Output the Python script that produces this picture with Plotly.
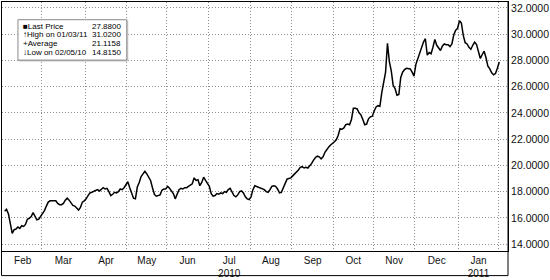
import numpy as np
import pandas as pd
import plotly.graph_objects as go

# ---- data (daily last price, weekdays from 2010-02-01) ----
start_date = "2010-02-01"
prices = [
    16.5, 16.65, 16.3, 15.5, 14.815, 15.1, 15.15, 15.3, 15.2, 15.4,
    15.35, 15.5, 15.9, 15.97, 16.1, 16.4, 16.15, 15.85, 15.9, 16.1,
    16.3, 16.55, 16.9, 17.2, 17.3, 17.3, 17.3, 17.3, 17.1, 17.0,
    17.0, 17.1, 17.35, 17.5, 17.35, 17.1, 16.95, 16.9, 16.75, 16.6,
    16.8, 17.2, 17.3, 17.45, 17.7, 17.9, 17.95, 18.0, 18.1, 18.15,
    18.05, 18.2, 18.3, 18.2, 18.25, 18.0, 17.7, 17.8, 17.95, 17.9,
    18.0, 18.2, 18.15, 18.3, 18.5, 18.75, 18.3, 17.8, 17.5, 17.45,
    18.35, 18.7, 19.15, 19.35, 19.55, 19.35, 19.1, 18.85, 18.3, 17.8,
    17.65, 17.7, 17.75, 18.1, 18.2, 18.2, 18.4, 18.25, 18.05, 17.85,
    17.45, 17.85, 18.15, 18.25, 18.2, 18.3, 18.3, 18.4, 18.5, 18.6,
    19.05, 18.85, 18.9, 18.45, 18.7, 19.1, 18.85, 18.65, 18.4, 17.85,
    17.65, 17.7, 17.85, 17.8, 17.9, 17.85, 18.0, 17.95, 18.15, 18.25,
    18.0, 17.7, 17.6, 17.75, 18.0, 18.05, 17.9, 17.6, 17.45, 17.4,
    17.6, 18.15, 18.45, 18.4, 18.35, 18.3, 18.25, 18.15, 18.0, 17.95,
    18.15, 18.4, 18.45, 18.4, 18.2, 17.9, 17.95, 18.3, 18.7, 18.95,
    19.0, 19.05, 19.2, 19.35, 19.45, 19.65, 19.85, 19.9, 19.8, 19.85,
    19.8, 19.95, 20.15, 20.4, 20.6, 20.7, 20.65, 20.5, 20.65, 21.0,
    21.25, 21.4, 21.55, 21.65, 21.8, 21.95, 22.3, 22.8, 22.75, 22.85,
    23.1, 23.15, 23.1, 23.5, 24.35, 24.35, 24.3, 24.0, 23.85, 23.5,
    23.1, 23.15, 23.55, 23.7, 23.75, 24.15, 24.45, 24.55, 24.5, 25.55,
    26.35, 27.1, 29.3, 27.9, 27.2, 26.1, 25.85, 25.35, 25.4, 26.7,
    27.1, 27.3, 27.4, 27.35, 27.35, 27.1, 26.8, 27.7, 28.15, 28.45,
    28.9, 29.4, 29.65, 28.4, 28.6, 28.5, 29.0, 29.6, 29.15, 28.9,
    28.75, 29.1, 29.25, 29.2, 29.2, 29.05, 29.25, 29.95, 30.3, 30.45,
    31.02, 30.85, 29.9, 29.35, 29.25, 29.0, 28.85, 29.15, 29.4, 29.2,
    28.65, 28.15, 28.45, 28.7, 28.2, 27.55, 27.35, 27.05, 26.9, 27.0,
    27.4, 27.88,
]
month_names = ["Feb", "Mar", "Apr", "May", "Jun", "Jul", "Aug", "Sep",
               "Oct", "Nov", "Dec", "Jan"]
year_labels = ["", "", "", "", "", "2010", "", "", "", "", "", "2011"]
y_ticks = [14, 16, 18, 20, 22, 24, 26, 28, 30, 32]

legend_labels = ["\u25a0Last Price", "\u2191High on 01/03/11", "+Average", "\u2193Low on 02/05/10"]
legend_values = ["27.8800", "31.0200", "21.1158", "14.8150"]

# ---- build ----
dates = pd.bdate_range(start_date, periods=len(prices))
idx = np.arange(len(prices))
periods = dates.to_period("M")
starts = [i for i in range(len(periods)) if i == 0 or periods[i] != periods[i - 1]]
bounds = (starts + [len(prices)])[: len(month_names) + 1]
grid_pos = [b - 0.5 for b in bounds[1:]]
label_pos = [(bounds[k] + bounds[k + 1]) / 2 - 0.5 for k in range(len(month_names))]
tick_text = [m if not y else f"{m}<br>{y}" for m, y in zip(month_names, year_labels)]

W, H = 550, 280
L, R, T, B = 1, 42, 1, 26
pw, ph = W - L - R, H - T - B


def px(x):
    return (x - L) / pw


def py(y):
    return (H - B - y) / ph


fig = go.Figure()
fig.add_trace(go.Scatter(x=idx, y=prices, mode="lines",
                         line=dict(color="black", width=1.5), hoverinfo="skip"))

grid_style = dict(gridcolor="#8f8f8f", griddash="1px,2px", gridwidth=1)
fig.update_layout(
    width=W, height=H, margin=dict(l=L, r=R, t=T, b=B),
    paper_bgcolor="white", plot_bgcolor="white", showlegend=False,
    font=dict(family="Liberation Sans, Arial", color="#111"),
    xaxis=dict(range=[-1.4, 265.6], tickmode="array", tickvals=label_pos,
               ticktext=tick_text, tickangle=0, showgrid=False, ticks="",
               zeroline=False, showline=True, linecolor="black", linewidth=1,
               mirror=True, tickfont=dict(size=10),
               minor=dict(tickmode="array", tickvals=grid_pos, showgrid=True,
                          ticks="", **grid_style)),
    yaxis=dict(range=[13.475, 32.45], side="right", tickmode="array",
               tickvals=y_ticks, tickformat=".4f", showgrid=True, ticks="",
               zeroline=False, showline=True, linecolor="black", linewidth=1,
               mirror=True, tickfont=dict(size=10.5), **grid_style),
)

# outer frame extending under the month labels
fig.add_shape(type="rect", xref="paper", yref="paper",
              x0=px(0.5), x1=px(508), y0=py(279), y1=py(0.5),
              line=dict(color="black", width=1), fillcolor="rgba(0,0,0,0)")

# info box (with faint shadow)
fig.add_shape(type="rect", xref="paper", yref="paper",
              x0=px(18), x1=px(127), y0=py(61), y1=py(20),
              line=dict(color="#c8c8c8", width=1), fillcolor="#c8c8c8")
fig.add_shape(type="rect", xref="paper", yref="paper",
              x0=px(17), x1=px(126), y0=py(60), y1=py(19),
              line=dict(color="#8a8a8a", width=1), fillcolor="white")
row_y = [25.7, 34.5, 43.3, 52.1]
for lab, val, yy in zip(legend_labels, legend_values, row_y):
    fig.add_annotation(xref="paper", yref="paper", x=px(20), y=py(yy),
                       text=lab, showarrow=False, xanchor="left", yanchor="middle",
                       font=dict(size=8, color="black"))
    fig.add_annotation(xref="paper", yref="paper", x=px(122.5), y=py(yy),
                       text=val, showarrow=False, xanchor="right", yanchor="middle",
                       font=dict(size=8, color="black"))

fig.write_html("out.html")
